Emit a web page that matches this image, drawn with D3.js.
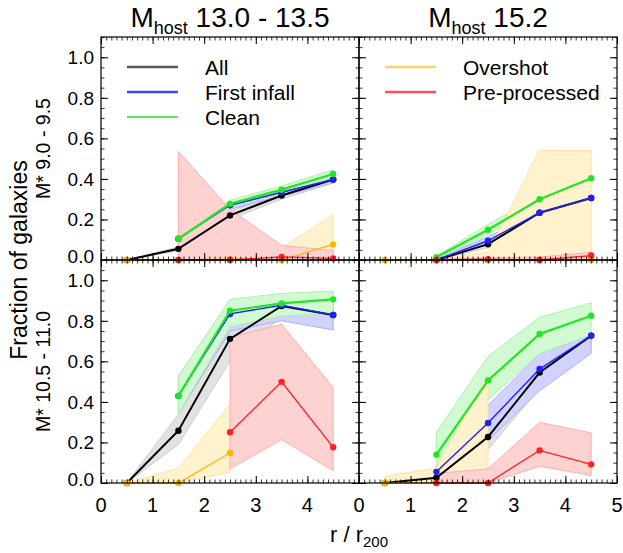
<!DOCTYPE html>
<html><head><meta charset="utf-8">
<script src="https://cdn.jsdelivr.net/npm/d3@7"></script>
<style>
body{margin:0;background:#fff}
svg{display:block}
text{font-family:"Liberation Sans",Arial,Helvetica,sans-serif;fill:#000}
</style>
</head><body>
<svg id="chart" width="623" height="553"></svg>
<script>
// ---------------- data ----------------
const rBins = [0.5, 1.5, 2.5, 3.5, 4.5];
const seriesNames = ["All", "First infall", "Clean", "Overshot", "Pre-processed"];
const seriesColors = ["#000000", "#1f1fff", "#22e622", "#ffb800", "#ff2020"];
const bandFills = ["#e2e2e2", "#d2d2ff", "#d2fad2", "#fff2cc", "#ffd2d2"];
const bandEdges = ["#cccccc", "#a8a8ff", "#a8eea8", "#ffe09a", "#ffa8a8"];
const hostTitles = ["13.0 - 13.5", "15.2"];
const massLabels = ["M* 9.0 - 9.5", "M* 10.5 - 11.0"];
const yTickValues = [0, 0.2, 0.4, 0.6, 0.8, 1.0];
const yTickLabels = ["0.0", "0.2", "0.4", "0.6", "0.8", "1.0"];
const xTickValues = [0, 1, 2, 3, 4, 5];

// top-left: M* 9.0-9.5, Mhost 13.0-13.5
const tlAll      = [0, 0.055, 0.22, 0.318, 0.397];
const tlAllLo    = [0, 0.045, 0.20, 0.300, 0.380];
const tlAllHi    = [0, 0.065, 0.24, 0.335, 0.410];
const tlFirst    = [null, 0.105, 0.270, 0.334, 0.397];
const tlFirstLo  = [null, 0.095, 0.250, 0.315, 0.380];
const tlFirstHi  = [null, 0.115, 0.285, 0.350, 0.415];
const tlClean    = [null, 0.105, 0.277, 0.347, 0.424];
const tlCleanLo  = [null, 0.100, 0.260, 0.330, 0.405];
const tlCleanHi  = [null, 0.110, 0.295, 0.365, 0.445];
const tlOver     = [0, 0, 0.005, 0, 0.077];
const tlOverLo   = [0, 0, 0, 0, 0];
const tlOverHi   = [0, 0, 0.015, 0.06, 0.224];
const tlPre      = [null, 0, 0, 0.015, 0.008];
const tlPreLo    = [null, 0, 0, 0, 0];
const tlPreHi    = [null, 0.536, 0.25, 0.072, 0.047];

// top-right: M* 9.0-9.5, Mhost 15.2
const trAll      = [null, 0, 0.078, 0.233, 0.306];
const trAllLo    = [null, 0, 0.060, 0.225, 0.300];
const trAllHi    = [null, 0, 0.095, 0.240, 0.312];
const trFirst    = [null, 0, 0.095, 0.233, 0.306];
const trFirstLo  = [null, 0, 0.075, 0.225, 0.300];
const trFirstHi  = [null, 0.005, 0.115, 0.240, 0.312];
const trClean    = [null, 0.014, 0.149, 0.300, 0.403];
const trCleanLo  = [null, 0.005, 0.125, 0.280, 0.385];
const trCleanHi  = [null, 0.020, 0.175, 0.320, 0.420];
const trOver     = [0, 0, 0, 0, 0];
const trOverLo   = [0, 0, 0, 0, 0];
const trOverHi   = [0, 0, 0.04, 0.54, 0.54];
const trPre      = [null, 0, 0.004, 0, 0.022];
const trPreLo    = [null, 0, 0, 0, 0];
const trPreHi    = [null, 0.005, 0.010, 0.015, 0.038];

// bottom-left: M* 10.5-11.0, Mhost 13.0-13.5
const blAll      = [0, 0.258, 0.711, 0.873, 0.829];
const blAllLo    = [0, 0.190, 0.600, 0.820, 0.800];
const blAllHi    = [0, 0.340, 0.750, 0.900, 0.860];
const blFirst    = [null, 0.430, 0.834, 0.877, 0.829];
const blFirstLo  = [null, 0.342, 0.750, 0.800, 0.755];
const blFirstHi  = [null, 0.525, 0.900, 0.930, 0.900];
const blClean    = [null, 0.430, 0.850, 0.886, 0.906];
const blCleanLo  = [null, 0.342, 0.770, 0.824, 0.837];
const blCleanHi  = [null, 0.525, 0.906, 0.935, 0.947];
const blOver     = [0, 0, 0.148, null, null];
const blOverLo   = [0, 0, 0.053, null, null];
const blOverHi   = [0, 0.073, 0.390, null, null];
const blPre      = [null, null, 0.250, 0.499, 0.176];
const blPreLo    = [null, null, 0.070, 0.214, 0.061];
const blPreHi    = [null, null, 0.719, 0.783, 0.471];

// bottom-right: M* 10.5-11.0, Mhost 15.2
const brAll      = [0, 0.026, 0.227, 0.545, 0.727];
const brAllLo    = [0, 0.020, 0.165, 0.468, 0.700];
const brAllHi    = [0, 0.035, 0.260, 0.560, 0.750];
const brFirst    = [null, 0.055, 0.296, 0.562, 0.727];
const brFirstLo  = [null, 0.035, 0.210, 0.455, 0.640];
const brFirstHi  = [null, 0.090, 0.383, 0.637, 0.730];
const brClean    = [null, 0.140, 0.506, 0.735, 0.825];
const brCleanLo  = [null, 0.083, 0.410, 0.637, 0.730];
const brCleanHi  = [null, 0.250, 0.624, 0.817, 0.889];
const brOver     = [0, 0, null, null, null];
const brOverLo   = [0, 0, 0, null, null];
const brOverHi   = [0.033, 0.075, 0.534, null, null];
const brPre      = [null, 0, 0, 0.161, 0.092];
const brPreLo    = [null, 0, 0, 0.083, 0.037];
const brPreHi    = [null, 0.047, 0.070, 0.299, 0.247];

// ---------------- build ----------------
const panels = [
  {col:0, row:0, s:[[tlAll,tlAllLo,tlAllHi],[tlFirst,tlFirstLo,tlFirstHi],[tlClean,tlCleanLo,tlCleanHi],[tlOver,tlOverLo,tlOverHi],[tlPre,tlPreLo,tlPreHi]]},
  {col:1, row:0, s:[[trAll,trAllLo,trAllHi],[trFirst,trFirstLo,trFirstHi],[trClean,trCleanLo,trCleanHi],[trOver,trOverLo,trOverHi],[trPre,trPreLo,trPreHi]]},
  {col:0, row:1, s:[[blAll,blAllLo,blAllHi],[blFirst,blFirstLo,blFirstHi],[blClean,blCleanLo,blCleanHi],[blOver,blOverLo,blOverHi],[blPre,blPreLo,blPreHi]]},
  {col:1, row:1, s:[[brAll,brAllLo,brAllHi],[brFirst,brFirstLo,brFirstHi],[brClean,brCleanLo,brCleanHi],[brOver,brOverLo,brOverHi],[brPre,brPreLo,brPreHi]]}
];

const svg = d3.select("#chart");
const colX = [[101, 359], [359, 617]];
const rowY = [[37, 260], [260, 483]];
const lineW = [2, 1.4, 2.2, 1.3, 1.3];

panels.forEach(p => {
  const x = d3.scaleLinear().domain([0, 5]).range(colX[p.col]);
  const y = d3.scaleLinear().domain([0, 1.1]).range([rowY[p.row][1], rowY[p.row][0]]);
  const g = svg.append("g");
  const idx = rBins.map((d, i) => i);

  // bands (opaque pastel, later series on top)
  p.s.forEach((ser, k) => {
    const [v, lo, hi] = ser;
    const area = d3.area()
      .defined(i => lo[i] != null && hi[i] != null)
      .x(i => x(rBins[i])).y0(i => y(lo[i])).y1(i => y(hi[i]));
    g.append("path").attr("d", area(idx))
      .attr("fill", bandFills[k])
      .attr("stroke", bandEdges[k]).attr("stroke-width", 0.9);
  });
  // lines + points
  p.s.forEach((ser, k) => {
    const v = ser[0];
    const line = d3.line().defined(i => v[i] != null).x(i => x(rBins[i])).y(i => y(v[i]));
    g.append("path").attr("d", line(idx)).attr("fill", "none")
      .attr("stroke", seriesColors[k]).attr("stroke-width", lineW[k]);
    g.selectAll(null).data(idx.filter(i => v[i] != null)).enter().append("circle")
      .attr("cx", i => x(rBins[i])).attr("cy", i => y(v[i])).attr("r", 3.2)
      .attr("fill", seriesColors[k]);
  });

  // axes: inward ticks on all four sides
  const minorX = d3.range(0, 5.0001, 0.1).map(d => +d.toFixed(2));
  const minorY = d3.range(0, 1.1001, 0.05).map(d => +d.toFixed(2));
  const axes = [
    [d3.axisBottom(x), `translate(0,${rowY[p.row][1]})`, minorX, xTickValues],
    [d3.axisTop(x), `translate(0,${rowY[p.row][0]})`, minorX, xTickValues],
    [d3.axisLeft(y), `translate(${colX[p.col][0]},0)`, minorY, yTickValues],
    [d3.axisRight(y), `translate(${colX[p.col][1]},0)`, minorY, yTickValues]
  ];
  axes.forEach(([ax, tr, minor, major]) => {
    const a1 = g.append("g").attr("transform", tr)
      .call(ax.tickValues(minor).tickSize(-3.5).tickFormat(""));
    a1.select(".domain").remove();
    a1.selectAll("line").attr("stroke", "#000").attr("stroke-width", 0.8);
    const a2 = g.append("g").attr("transform", tr)
      .call(ax.tickValues(major).tickSize(-7).tickFormat(""));
    a2.select(".domain").remove();
    a2.selectAll("line").attr("stroke", "#000").attr("stroke-width", 1);
  });
  g.append("rect")
    .attr("x", colX[p.col][0]).attr("y", rowY[p.row][0])
    .attr("width", colX[p.col][1] - colX[p.col][0]).attr("height", rowY[p.row][1] - rowY[p.row][0])
    .attr("fill", "none").attr("stroke", "#000").attr("stroke-width", 1.2);

  if (p.col === 0) {
    yTickValues.forEach((t, i) => {
      svg.append("text").attr("x", 94).attr("y", y(t) + (t === 0 ? -4 : 0))
        .attr("dy", "0.36em").attr("text-anchor", "end").attr("font-size", 19)
        .text(yTickLabels[i]);
    });
  }
  if (p.row === 1) {
    const vals = p.col === 0 ? xTickValues.slice(0, 5) : xTickValues;
    vals.forEach(t => {
      svg.append("text").attr("x", x(t)).attr("y", 512)
        .attr("text-anchor", "middle").attr("font-size", 20).text(t);
    });
  }
  if (p.row === 0) {
    const t = svg.append("text").attr("x", (colX[p.col][0] + colX[p.col][1]) / 2).attr("y", 27)
      .attr("text-anchor", "middle").attr("font-size", 28);
    t.append("tspan").text("M");
    t.append("tspan").attr("font-size", 18).attr("dy", 7).text("host");
    t.append("tspan").attr("dy", -7).text(" " + hostTitles[p.col]);
  }
  if (p.col === 0) {
    const cy = (rowY[p.row][0] + rowY[p.row][1]) / 2;
    svg.append("text").attr("transform", `translate(50,${cy}) rotate(-90)`)
      .attr("text-anchor", "middle").attr("font-size", 19.5).text(massLabels[p.row]);
  }
});

svg.append("text").attr("transform", "translate(27,260) rotate(-90)")
  .attr("text-anchor", "middle").attr("font-size", 23).text("Fraction of galaxies");

const xt = svg.append("text").attr("x", 359).attr("y", 542).attr("text-anchor", "middle").attr("font-size", 22);
xt.append("tspan").text("r / r");
xt.append("tspan").attr("font-size", 15).attr("dy", 5).text("200");

// legends
const legendStyles = [
  {c: "#555555", w: 2.4, halo: null},
  {c: "#2020ff", w: 1.4, halo: "#a8a8ff"},
  {c: "#22e622", w: 1.6, halo: null},
  {c: "#ffd36a", w: 2.6, halo: null},
  {c: "#ff3030", w: 1.4, halo: "#ffb0b0"}
];
const legendGroups = [[0, 1, 2], [3, 4]];
legendGroups.forEach((grp, col) => {
  const x0 = colX[col][0];
  grp.forEach((k, j) => {
    const base = 75 + j * 25;
    const st = legendStyles[k];
    if (st.halo) svg.append("line").attr("x1", x0 + 26).attr("x2", x0 + 77).attr("y1", base - 8).attr("y2", base - 8)
      .attr("stroke", st.halo).attr("stroke-width", 3);
    svg.append("line").attr("x1", x0 + 26).attr("x2", x0 + 77).attr("y1", base - 8).attr("y2", base - 8)
      .attr("stroke", st.c).attr("stroke-width", st.w);
    svg.append("text").attr("x", x0 + 104).attr("y", base).attr("font-size", 21).text(seriesNames[k]);
  });
});
</script>
</body></html>
